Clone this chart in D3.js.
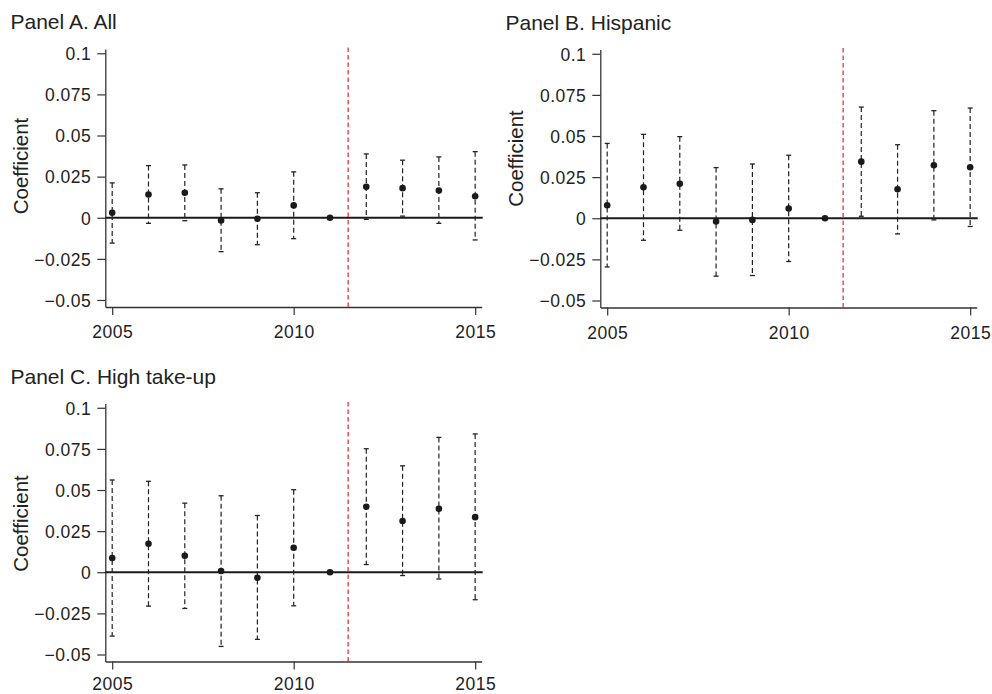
<!DOCTYPE html>
<html lang="en">
<head>
<meta charset="UTF-8">
<title>Event study coefficients</title>
<script src="https://d3js.org/d3.v7.min.js"></script>
<style>
  body { margin: 0; background: white; }
  svg { display: block; }
  text { font-family: "Liberation Sans", Arial, sans-serif; fill: #222; }
  .tick text { font-size: 17.5px; letter-spacing: 0.5px; }
</style>
</head>
<body>
<svg width="992" height="694"></svg>
<script>
// years and estimates (2011 is the omitted reference year)
const years = [2005, 2006, 2007, 2008, 2009, 2010, 2011, 2012, 2013, 2014, 2015];

const allCoef = [0.003, 0.0141, 0.0152, -0.0016, -0.0006, 0.0075, 0, 0.0188, 0.018, 0.0166, 0.0131];
const allLo   = [-0.0154, -0.0034, -0.0018, -0.0206, -0.0164, -0.0127, null, -0.001, 0.001, -0.0034, -0.0135];
const allHi   = [0.0212, 0.0317, 0.0321, 0.0176, 0.0152, 0.0279, null, 0.0388, 0.035, 0.037, 0.0402];

const hispCoef = [0.0079, 0.0188, 0.021, -0.002, -0.001, 0.0059, 0, 0.0344, 0.0176, 0.0322, 0.031];
const hispLo   = [-0.0296, -0.0134, -0.0073, -0.0352, -0.0348, -0.0263, null, 0.0012, -0.0095, -0.001, -0.005];
const hispHi   = [0.0455, 0.051, 0.0496, 0.0308, 0.033, 0.0383, null, 0.0676, 0.0447, 0.0654, 0.067];

const highCoef = [0.0086, 0.0173, 0.01, 0.0008, -0.0033, 0.0149, 0, 0.0398, 0.0312, 0.0386, 0.0335];
const highLo   = [-0.0388, -0.0206, -0.022, -0.0451, -0.0408, -0.0204, null, 0.0047, -0.002, -0.0041, -0.0167];
const highHi   = [0.0561, 0.0553, 0.042, 0.0465, 0.0345, 0.0502, null, 0.0751, 0.0647, 0.082, 0.0841];

const yTicks = [-0.05, -0.025, 0, 0.025, 0.05, 0.075, 0.1];
const yTickLabels = ["\u22120.05", "\u22120.025", "0", "0.025", "0.05", "0.075", "0.1"];
const xTicks = [2005, 2010, 2015];
const policyYear = 2011.5;

const panels = [
  { title: "Panel A. All", coef: allCoef, lo: allLo, hi: allHi, ox: 0, oy: 0, labelY: 166, xPad: 11 },
  { title: "Panel B. Hispanic", coef: hispCoef, lo: hispLo, hi: hispHi, ox: 495, oy: 0.5, labelY: 158, xPad: 11 },
  { title: "Panel C. High take-up", coef: highCoef, lo: highLo, hi: highHi, ox: 0, oy: 354.5, labelY: 169, xPad: 8.5 }
];

const svg = d3.select("svg");

// shared scales (each panel is translated)
const x = d3.scaleLinear().domain([2004.81, 2015.18]).range([105.3, 481.7]);
const y = d3.scaleLinear().domain([-0.05426, 0.1026]).range([307, 49]);

panels.forEach(function (p) {
  const g = svg.append("g").attr("transform", "translate(" + p.ox + "," + p.oy + ")");

  g.append("text")
    .attr("x", 10.5)
    .attr("y", 29)
    .style("font-size", "21px")
    .text(p.title);

  g.append("text")
    .attr("transform", "translate(28," + p.labelY + ") rotate(-90)")
    .attr("text-anchor", "middle")
    .style("font-size", "20.5px")
    .text("Coefficient");

  // y axis
  const yAxis = d3.axisLeft(y)
    .tickValues(yTicks)
    .tickFormat(function (d, i) { return yTickLabels[i]; })
    .tickSize(8)
    .tickSizeOuter(0)
    .tickPadding(6);
  const ya = g.append("g").attr("transform", "translate(" + x.range()[0] + ",0)").call(yAxis);

  // x axis
  const xAxis = d3.axisBottom(x)
    .tickValues(xTicks)
    .tickFormat(d3.format("d"))
    .tickSize(8)
    .tickSizeOuter(0)
    .tickPadding(p.xPad);
  const xa = g.append("g").attr("transform", "translate(0," + y.range()[0] + ")").call(xAxis);

  [ya, xa].forEach(function (a) {
    a.select(".domain").attr("stroke", "#333").attr("stroke-width", 1.3);
    a.selectAll(".tick line").attr("stroke", "#333").attr("stroke-width", 1.2);
    a.selectAll(".tick text").attr("fill", "#222");
  });
  ya.selectAll(".tick text").attr("dy", "0.36em");

  // zero line
  g.append("line")
    .attr("x1", x.range()[0]).attr("x2", x.range()[1] + 1)
    .attr("y1", y(0)).attr("y2", y(0))
    .attr("stroke", "#1a1a1a")
    .attr("stroke-width", 2.2);

  // policy line
  g.append("line")
    .attr("x1", x(policyYear)).attr("x2", x(policyYear))
    .attr("y1", y.range()[1] - 1.5).attr("y2", y.range()[0])
    .attr("stroke", "#e3262b")
    .attr("stroke-width", 1.2)
    .attr("stroke-dasharray", "4.5,3");

  const rows = years.map(function (yr, i) {
    return { year: yr, coef: p.coef[i], lo: p.lo[i], hi: p.hi[i] };
  });
  const ci = rows.filter(function (d) { return d.lo !== null; });

  g.append("g").selectAll("line")
    .data(ci).enter().append("line")
    .attr("x1", function (d) { return x(d.year); })
    .attr("x2", function (d) { return x(d.year); })
    .attr("y1", function (d) { return y(d.hi); })
    .attr("y2", function (d) { return y(d.lo); })
    .attr("stroke", "#222")
    .attr("stroke-width", 1.2)
    .attr("stroke-dasharray", "5,3");

  ["hi", "lo"].forEach(function (k) {
    g.append("g").selectAll("line")
      .data(ci).enter().append("line")
      .attr("x1", function (d) { return x(d.year) - 2.5; })
      .attr("x2", function (d) { return x(d.year) + 2.5; })
      .attr("y1", function (d) { return y(d[k]); })
      .attr("y2", function (d) { return y(d[k]); })
      .attr("stroke", "#222")
      .attr("stroke-width", 1.3);
  });

  g.append("g").selectAll("circle")
    .data(rows).enter().append("circle")
    .attr("cx", function (d) { return x(d.year); })
    .attr("cy", function (d) { return y(d.coef); })
    .attr("r", 3.3)
    .attr("fill", "#1a1a1a");
});
</script>
</body>
</html>
